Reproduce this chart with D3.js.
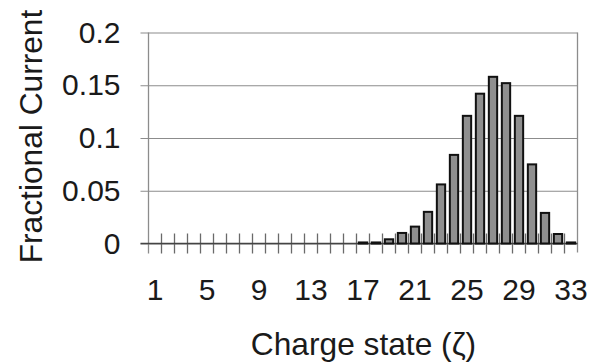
<!DOCTYPE html>
<html>
<head>
<meta charset="utf-8">
<script src="https://cdn.jsdelivr.net/npm/d3@7/dist/d3.min.js"></script>
<style>
  html, body { margin: 0; padding: 0; background: #fff; }
  svg { display: block; }
  text { font-family: "Liberation Sans", Arial, sans-serif; fill: #1a1a1a; }
</style>
</head>
<body>
<svg id="chart" width="590" height="364"></svg>
<script>
// ---- data ----
const chargeStates = d3.range(1, 34);
const fractionalCurrent = [
  0, 0, 0, 0, 0, 0, 0, 0, 0, 0, 0, 0, 0, 0, 0, 0,
  0.001, 0.001, 0.004, 0.010, 0.016, 0.030, 0.056, 0.084,
  0.121, 0.142, 0.158, 0.152, 0.121, 0.075, 0.029, 0.009, 0.001
];
const yTicks = [0, 0.05, 0.1, 0.15, 0.2];
const yTickLabels = ["0", "0.05", "0.1", "0.15", "0.2"];
const xTickValues = [1, 5, 9, 13, 17, 21, 25, 29, 33];
const xTitle = "Charge state (ζ)";
const yTitle = "Fractional Current";

// ---- layout ----
const pL = 148.5, pR = 577.5, pT = 32.5, pB = 243.5;
const svg = d3.select("#chart");

const x = d3.scaleBand().domain(chargeStates).range([pL, pR]).paddingInner(0.36).paddingOuter(0.18);
const xEdge = d3.scaleLinear().domain([0, chargeStates.length]).range([pL, pR]);
const y = d3.scaleLinear().domain([0, 0.2]).range([pB, pT]);

// gridlines + y tick marks
const yAxis = d3.axisLeft(y).tickValues(yTicks).tickFormat((d, i) => yTickLabels[i])
  .tickSizeInner(-(pR - pL)).tickSizeOuter(0).tickPadding(28);
const gy = svg.append("g").attr("transform", `translate(${pL},0)`).call(yAxis);
gy.select(".domain").remove();
gy.selectAll(".tick line").attr("x1", -8).attr("stroke", "#8c8c8c").attr("stroke-width", 1.2);
gy.selectAll(".tick text").attr("font-size", 30).attr("fill", "#1a1a1a")
  .attr("font-family", "Liberation Sans, Arial, sans-serif");

// category boundary tick marks (crossing the axis)
const edges = d3.range(1, chargeStates.length);
svg.append("g").selectAll("line").data(edges).join("line")
  .attr("x1", d => xEdge(d)).attr("x2", d => xEdge(d))
  .attr("y1", pB - 10).attr("y2", pB + 10)
  .attr("stroke", "#6a6a6a").attr("stroke-width", 1.3);

// left axis line and right border
svg.append("line").attr("x1", pL).attr("x2", pL).attr("y1", pT).attr("y2", pB + 10)
  .attr("stroke", "#8c8c8c").attr("stroke-width", 1.3);
svg.append("line").attr("x1", pR).attr("x2", pR).attr("y1", pT).attr("y2", pB + 9)
  .attr("stroke", "#8c8c8c").attr("stroke-width", 1.3);

// baseline
svg.append("line").attr("x1", pL - 8).attr("x2", pR).attr("y1", y(0)).attr("y2", y(0))
  .attr("stroke", "#444").attr("stroke-width", 1.3);

// bars
const barData = chargeStates.map((c, i) => ({ c, v: fractionalCurrent[i] })).filter(d => d.v > 0);
svg.append("g").selectAll("rect").data(barData).join("rect")
  .attr("x", d => x(d.c)).attr("width", x.bandwidth())
  .attr("y", d => y(d.v)).attr("height", d => y(0) - y(d.v))
  .attr("fill", "#8f8f8f").attr("stroke", "#111").attr("stroke-width", 2);

// x tick labels
const xAxis = d3.axisBottom(x).tickValues(xTickValues).tickSize(0).tickPadding(0);
const gx = svg.append("g").attr("transform", `translate(0,${pB})`).call(xAxis);
gx.select(".domain").remove();
gx.selectAll(".tick text").attr("font-size", 30).attr("fill", "#1a1a1a")
  .attr("font-family", "Liberation Sans, Arial, sans-serif")
  .attr("dy", null).attr("y", 56.5);

// axis titles
svg.append("text").attr("x", 363.5).attr("y", 355).attr("text-anchor", "middle")
  .attr("font-size", 31.7).text(xTitle);
svg.append("text").attr("transform", "translate(41.5,136.5) rotate(-90)")
  .attr("text-anchor", "middle").attr("font-size", 31.7).text(yTitle);
</script>
</body>
</html>
